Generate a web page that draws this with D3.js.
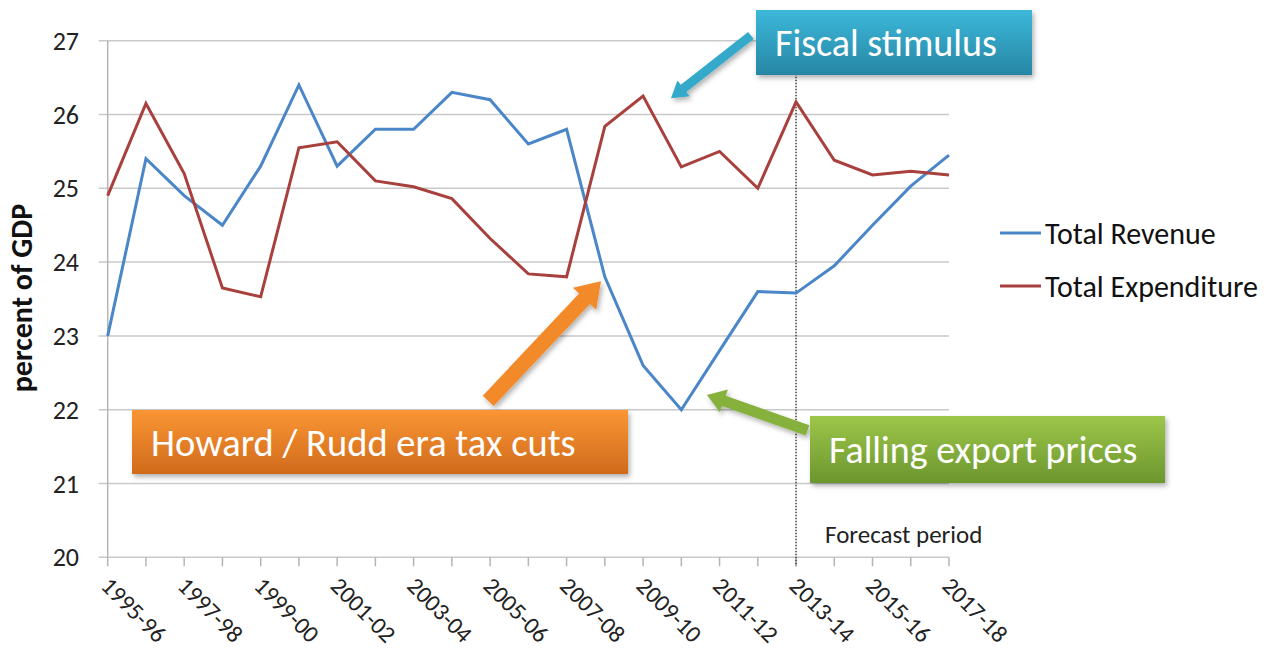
<!DOCTYPE html>
<html>
<head>
<meta charset="utf-8">
<script src="https://cdn.jsdelivr.net/npm/d3@7"></script>
<style>
  body { margin: 0; background: #fff; }
  svg { font-family: Carlito, Calibri, Lato, "Open Sans", sans-serif; }
</style>
</head>
<body>
<svg id="chart" width="1277" height="657"></svg>
<script>
// data
var years = ["1995-96","1996-97","1997-98","1998-99","1999-00","2000-01","2001-02","2002-03","2003-04","2004-05","2005-06","2006-07","2007-08","2008-09","2009-10","2010-11","2011-12","2012-13","2013-14","2014-15","2015-16","2016-17","2017-18"];
var revenue = [23.0,25.4,24.9,24.5,25.3,26.4,25.3,25.8,25.8,26.3,26.2,25.6,25.8,23.8,22.6,22.0,22.8,23.6,23.58,23.95,24.5,25.03,25.45];
var expenditure = [24.9,26.15,25.2,23.65,23.53,25.55,25.63,25.1,25.02,24.86,24.32,23.84,23.8,25.84,26.25,25.29,25.5,25.0,26.17,25.38,25.18,25.23,25.18];
var yTicks = [20,21,22,23,24,25,26,27];
var seriesNames = ["Total Revenue", "Total Expenditure"];
var forecastStart = "2013-14";

var svg = d3.select("#chart");

var plot = { left: 107.7, right: 949, top: 40.7, bottom: 557.3 };
var colors = ["#4a86c8", "#a8403e"];

var x = d3.scaleLinear().domain([0, years.length - 1]).range([plot.left, plot.right]);
var y = d3.scaleLinear().domain([20, 27]).range([plot.bottom, plot.top]);

var defs = svg.append("defs");
var shadow = defs.append("filter").attr("id", "shadow")
  .attr("x", "-10%").attr("y", "-20%").attr("width", "130%").attr("height", "160%");
shadow.append("feDropShadow").attr("dx", 2).attr("dy", 3).attr("stdDeviation", 2.5)
  .attr("flood-color", "#000").attr("flood-opacity", 0.3);

function grad(id, top, bottom) {
  var g = defs.append("linearGradient").attr("id", id)
    .attr("x1", 0).attr("y1", 0).attr("x2", 0).attr("y2", 1);
  g.append("stop").attr("offset", "0%").attr("stop-color", top);
  g.append("stop").attr("offset", "100%").attr("stop-color", bottom);
}
grad("gTeal", "#3cb8da", "#2786a4");
grad("gOrange", "#fa9634", "#d06a1c");
grad("gGreen", "#9dc64a", "#6c962e");

// gridlines
svg.append("g").selectAll("line.grid")
  .data(yTicks)
  .enter().append("line")
  .attr("x1", plot.left - 9).attr("x2", plot.right)
  .attr("y1", d => y(d)).attr("y2", d => y(d))
  .style("stroke", "#c9c9c9").style("stroke-width", 1.5);

// y axis line
svg.append("line")
  .attr("x1", plot.left).attr("x2", plot.left)
  .attr("y1", plot.top).attr("y2", plot.bottom)
  .style("stroke", "#b5b5b5").style("stroke-width", 1.5);

// x ticks
svg.append("g").selectAll("line.xt")
  .data(years)
  .enter().append("line")
  .attr("x1", (d, i) => x(i)).attr("x2", (d, i) => x(i))
  .attr("y1", plot.bottom).attr("y2", plot.bottom + 9)
  .style("stroke", "#b5b5b5").style("stroke-width", 1.5);

// y labels
svg.append("g").selectAll("text.yl")
  .data(yTicks)
  .enter().append("text")
  .attr("x", 79).attr("y", d => y(d))
  .attr("dy", "0.35em")
  .attr("text-anchor", "end")
  .style("font-size", "26px").style("fill", "#222")
  .text(d => d);

// x labels (every other year)
svg.append("g").selectAll("text.xl")
  .data(years.filter((d, i) => i % 2 === 0))
  .enter().append("text")
  .attr("transform", d => "translate(" + (x(years.indexOf(d)) - 8) + "," + (plot.bottom + 30) + ") rotate(45)")
  .style("font-size", "24px").style("fill", "#222")
  .text(d => d);

// y title
svg.append("text")
  .attr("transform", "translate(32,298) rotate(-90)")
  .attr("text-anchor", "middle")
  .style("font-size", "30px").style("font-weight", "bold").style("fill", "#111")
  .text("percent of GDP");

// forecast divider
var fi = years.indexOf(forecastStart);
svg.append("line")
  .attr("x1", x(fi)).attr("x2", x(fi))
  .attr("y1", plot.top).attr("y2", plot.bottom + 9)
  .style("stroke", "#222").style("stroke-width", 1.3)
  .style("stroke-dasharray", "1.5,1.5");

svg.append("text")
  .attr("x", x(fi) + 29).attr("y", 543)
  .style("font-size", "25px").style("fill", "#222")
  .text("Forecast period");

// lines
var line = d3.line().x((d, i) => x(i)).y(d => y(d));
[revenue, expenditure].forEach(function(s, k) {
  svg.append("path")
    .datum(s)
    .attr("d", line)
    .style("fill", "none")
    .style("stroke", colors[k])
    .style("stroke-width", 3)
    .style("stroke-linejoin", "miter");
});

// legend
var legend = svg.append("g").selectAll("g.leg")
  .data(seriesNames)
  .enter().append("g")
  .attr("transform", (d, i) => "translate(1000," + (233 + i * 53) + ")");
legend.append("line")
  .attr("x1", 0).attr("x2", 41).attr("y1", 0).attr("y2", 0)
  .style("stroke", (d, i) => colors[i]).style("stroke-width", 3);
legend.append("text")
  .attr("x", 45).attr("dy", "0.35em")
  .style("font-size", "30px").style("fill", "#111")
  .text(d => d);

// annotation arrows
function arrowPath(x1, y1, x2, y2, w, hw, hl) {
  var dx = x2 - x1, dy = y2 - y1;
  var len = Math.sqrt(dx * dx + dy * dy);
  var ux = dx / len, uy = dy / len;
  var px = -uy, py = ux;
  var bx = x2 - ux * hl, by = y2 - uy * hl;
  var pts = [
    [x1 + px * w / 2, y1 + py * w / 2],
    [bx + px * w / 2, by + py * w / 2],
    [bx + px * hw / 2, by + py * hw / 2],
    [x2, y2],
    [bx - px * hw / 2, by - py * hw / 2],
    [bx - px * w / 2, by - py * w / 2],
    [x1 - px * w / 2, y1 - py * w / 2]
  ];
  return "M" + pts.map(p => p.join(",")).join("L") + "Z";
}

var notes = [
  { text: "Fiscal stimulus", fill: "url(#gTeal)", arrow: "#35a9c9",
    tail: [16.82, 27.07], tip: [14.73, 26.22], w: 9, hw: 20, hl: 16,
    box: [756, 10, 276, 65], size: 38 },
  { text: "Howard / Rudd era tax cuts", fill: "url(#gOrange)", arrow: "#f28a2c",
    tail: [9.95, 22.12], tip: [12.9, 23.74], w: 15, hw: 32, hl: 24,
    box: [132, 410, 496, 64], size: 38.5 },
  { text: "Falling export prices", fill: "url(#gGreen)", arrow: "#86b13d",
    tail: [18.3, 21.72], tip: [15.67, 22.2], w: 11, hw: 24, hl: 18,
    box: [810, 416, 355, 67], size: 38 }
];

var ann = svg.append("g").selectAll("g.note")
  .data(notes)
  .enter().append("g");

ann.append("path")
  .attr("d", d => arrowPath(x(d.tail[0]), y(d.tail[1]), x(d.tip[0]), y(d.tip[1]), d.w, d.hw, d.hl))
  .style("fill", d => d.arrow)
  .attr("filter", "url(#shadow)");

ann.append("rect")
  .attr("x", d => d.box[0]).attr("y", d => d.box[1])
  .attr("width", d => d.box[2]).attr("height", d => d.box[3])
  .style("fill", d => d.fill)
  .attr("filter", "url(#shadow)");

ann.append("text")
  .attr("x", d => d.box[0] + 19)
  .attr("y", d => d.box[1] + d.box[3] / 2)
  .attr("dy", "0.36em")
  .style("font-size", d => d.size + "px")
  .style("fill", "#fff")
  .text(d => d.text);
</script>
</body>
</html>
